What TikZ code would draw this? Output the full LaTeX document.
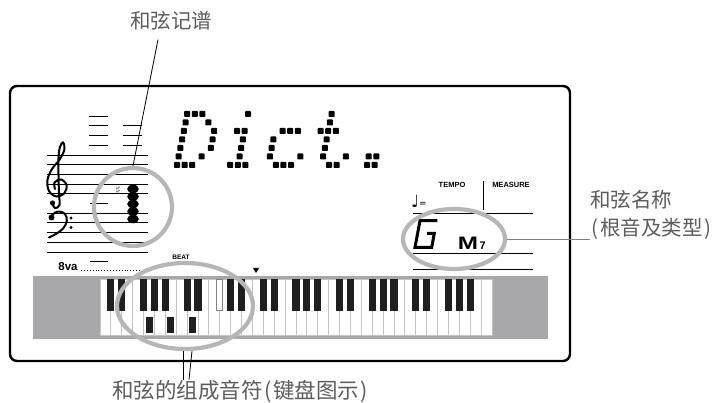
\documentclass[tikz,border=0pt]{standalone}
\usepackage{fontspec}
\setmainfont{Liberation Sans}
\newfontfamily\cjk{Noto Sans CJK SC}
\newfontfamily\symfont{DejaVu Sans}
\usetikzlibrary{shapes.geometric,positioning}
\definecolor{ringgray}{RGB}{182,182,182}
\definecolor{bandgray}{RGB}{168,168,170}
\definecolor{labelgray}{RGB}{92,92,92}
\definecolor{keyline}{RGB}{195,195,195}
\newcommand{\halfparen}[1]{\makebox[0.5em]{#1}}
\tikzset{
  staffline/.style={line width=0.8pt},
  clefline/.style={line width=2pt,line cap=round},
  ring/.style={draw=ringgray,line width=4.2pt,inner sep=0pt},
  lcddot/.style={fill=black,rounded corners=0.8pt},
  cnlabel/.style={inner sep=0pt,text=labelgray,font=\cjk\fontsize{20.5}{20.5}\selectfont},
  tinylabel/.style={inner sep=0pt,font=\bfseries\fontsize{7.5}{7.5}\selectfont},
  whitekey/.style={fill=white,draw=keyline,line width=0.8pt},
  blackkey/.style={fill=black!88},
  leader/.style={line width=0.8pt}
}
\begin{document}
\begin{tikzpicture}[x=1pt,y=-1pt]
    \useasboundingbox (0,0) rectangle (718,403);
    \draw[line width=2.4pt,rounded corners=7pt] (10,86) rectangle (570,361);
    % staff
    \foreach \y in {0,1,2,3,4,6,7,8,9,10}
        \draw[staffline] (47,{155+9.7*\y}) -- (148,{155+9.7*\y});
    \foreach \y in {116.2,125.9,135.6,145.3}
        \draw[staffline] (89,\y) -- (108,\y);
    \foreach \y in {125.9,135.6,145.3}
        \draw[staffline] (123,\y) -- (142,\y);
    \draw[staffline] (90,203.5) -- (108,203.5);
    \draw[staffline] (90,261.5) -- (108,261.5);
    % clefs
    \draw[clefline] plot[smooth,tension=0.6] coordinates {(52,203) (55,208) (59.5,205) (59,194) (58.5,175) (58.5,158) (60,147) (63,142.5) (64.5,149) (60,159) (52,169) (47.5,180) (49,191) (56.5,196.5) (64.5,193) (66.5,185) (61,179.5) (54.5,182.5) (55,189)};
    \fill (52.5,203) circle (2.6pt);
    \draw[clefline] plot[smooth,tension=0.7] coordinates {(51,217) (55,212.5) (62,212) (66.5,217) (65.5,225) (59,232) (49,237.5)};
    \fill (51.5,217.5) circle (3pt);
    \fill (71,218) circle (1.6pt);
    \fill (71,227.5) circle (1.6pt);
    \node (sharpsign) [inner sep=0pt,text=black!60] at (118,190) {\symfont\fontsize{12}{12}\selectfont ♯};
    \foreach \y in {189,196.5,204,211.5,219}
        \fill (133,\y) ellipse (5.8pt and 4.3pt);
    \node (chordring) [ring,circle,minimum size=78pt] at (133,207) {};
    \node (chordlabel) [cnlabel] at (171,21) {和弦记谱};
    \draw[leader] ([xshift=-13pt,yshift=-9pt]chordlabel.south) -- (chordring.north);
    % dot matrix text
    \foreach \k/\cells in {
        0/{0/0,1/0,2/0,0/1,3/1,0/2,4/2,0/3,4/3,0/4,4/4,0/5,3/5,0/6,1/6,2/6},
        1/{2/0,1/2,2/2,2/3,2/4,2/5,1/6,2/6,3/6},
        2/{1/2,2/2,3/2,0/3,0/4,0/5,4/5,1/6,2/6,3/6},
        3/{1/0,1/1,0/2,1/2,2/2,1/3,1/4,1/5,4/5,2/6,3/6},
        4/{1/5,2/5,1/6,2/6}}
        \foreach \c/\r in \cells
            \fill[lcddot] ({177+45.6*\k+7.6*\c+1.7*(6-\r)-3},{114+8.5*\r-3}) rectangle ++(6,6);
    % tempo / chord name
    \node (tempo) [tinylabel] at (452,185) {TEMPO};
    \node (measure) [tinylabel] at (511,185) {MEASURE};
    \draw[staffline] (483,181) -- (483,210);
    \node (tempomark) [inner sep=0pt] at (419,201) {\symfont\fontsize{17}{17}\selectfont ♩\raisebox{1pt}{\fontsize{9}{9}\selectfont =}};
    \foreach \y in {213,253,269}
        \draw[staffline] (413,\y) -- (533,\y);
    \draw[line width=3pt,line join=miter] (437.3,220.7) -- (420,220.7) -- (415,247.3) -- (431.7,247.3) -- (434.3,233.3) -- (427,233.3);
    \node (chordm) [inner sep=0pt,font=\bfseries\fontsize{18}{18}\selectfont,anchor=base] at (468,250) {\scalebox{1.35}[1]{M}};
    \node (chordseven) [inner sep=0pt,font=\bfseries\fontsize{11}{11}\selectfont,anchor=base west] at ([xshift=1pt]chordm.base east) {7};
    \node (namering) [ring,ellipse,minimum width=102pt,minimum height=60pt] at (454,239) {};
    \node (nametitle) [cnlabel,anchor=west] at (590,200) {和弦名称};
    \node (namesub) [cnlabel,anchor=west] at (590,229) {\halfparen{(}根音及类型\halfparen{)}};
    \draw[leader,draw=gray] (namering.east) -- (namering.east -| namesub.west);
    % keyboard
    \fill[bandgray] (33,276) rectangle (548,339);
    \foreach \k in {0,...,35}
        \draw[whitekey] ({100+10.889*\k},279) rectangle ++(10.889,56);
    \foreach \o in {0,...,4}
        \foreach \b in {1,2,4,5,6}
            \fill[blackkey] ({100+10.889*(7*\o+\b)-3.6},279) rectangle ++(7.2,32);
    \draw[whitekey,draw=gray] ({100+10.889*11-3},279.5) rectangle ++(6,31);
    \foreach \k in {4,6,8}
        \fill[blackkey] ({100+10.889*(\k+0.5)-3.5},317) rectangle ++(7,16);
    \fill (253,268) -- (259,268) -- (256,273) -- cycle;
    \node (octavelabel) [inner sep=0pt,font=\bfseries\fontsize{11.5}{11.5}\selectfont] at (68,267) {8va};
    \draw[dotted,line width=0.9pt] (81,270) -- (150,270);
    \node (beat) [tinylabel,font=\bfseries\fontsize{6.5}{6.5}\selectfont] at (181,257) {BEAT};
    \node (keyring) [ring,ellipse,minimum width=136pt,minimum height=86pt] at (185,306) {};
    \node (keylabel) [cnlabel,font=\cjk\fontsize{21.5}{21.5}\selectfont] at (241,391) {和弦的组成音符\halfparen{(}键盘图示\halfparen{)}};
    \draw[leader] ([xshift=-2pt]keyring.south) -- ([xshift=-2pt]keyring.south |- keylabel.north);
    \draw[leader] ([xshift=7pt]keyring.south) -- ([xshift=4pt]keyring.south |- keylabel.north);
\end{tikzpicture}
\end{document}
